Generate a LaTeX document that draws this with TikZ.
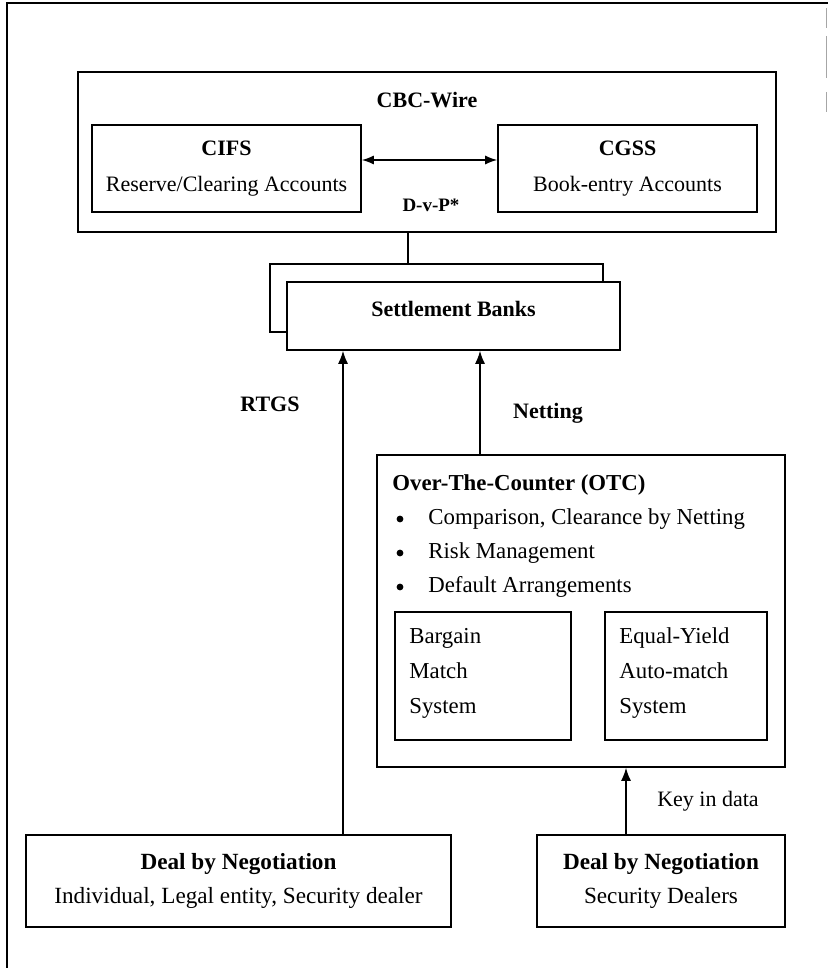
\documentclass[tikz,border=0pt]{standalone}
\usepackage{fontspec}
\setmainfont{Liberation Serif}
\usetikzlibrary{arrows.meta}
\begin{document}
\begin{tikzpicture}[x=0.5pt,y=-0.5pt,
  frame/.style={draw, line width=0.8pt, fill=white, inner sep=0pt},
  txt/.style={font=\fontsize{11}{17.5}\selectfont, inner sep=0pt, align=center},
  dtxt/.style={font=\fontsize{11.6}{17}\selectfont, inner sep=0pt, align=center},
  btxt/.style={font=\fontsize{11}{17.5}\selectfont\bfseries, inner sep=0pt},
  item/.style={font=\fontsize{11.4}{17.5}\selectfont, inner sep=0pt, anchor=base west},
  dot/.style={circle, fill, inner sep=0pt, minimum size=3.4pt},
  link/.style={line width=0.7pt},
  arr/.style={-{Latex[length=6.5pt,width=5pt]}, line width=0.7pt},
  darr/.style={{Latex[length=6pt,width=4.5pt]}-{Latex[length=6pt,width=4.5pt]}, line width=0.7pt}]

\useasboundingbox (0,0) rectangle (828,968);

% page frame
\draw[line width=0.8pt] (7,968) -- (7,3) -- (828,3);
\draw[gray!70, line width=0.4pt] (826,8) -- (826,28) (826,36) -- (826,78) (826,92) -- (826,112);

% central bank system
\node[frame, minimum width=349pt, minimum height=80pt] (cbc) at (427,152) {};
\node[btxt] (cbctitle) at (427,100) {CBC-Wire};
\node[frame, txt, minimum width=134.5pt, minimum height=43.5pt] (cifs) at (226.5,168.5)
  {\textbf{CIFS}\\[0.5pt]Reserve/Clearing Accounts};
\node[frame, txt, minimum width=129.5pt, minimum height=43.5pt] (cgss) at (627.5,168.5)
  {\textbf{CGSS}\\[0.5pt]Book-entry Accounts};
\draw[darr] ([yshift=4.25pt]cifs.east) -- ([yshift=4.25pt]cgss.west);
\node[font=\fontsize{9.5}{11}\selectfont\bfseries, inner sep=0pt] (dvp) at (431,205) {D-v-P*};

% settlement banks (stacked)
\node[frame, minimum width=166.5pt, minimum height=34pt] (back) at (436.5,298) {};
\node[frame, minimum width=166.5pt, minimum height=34pt] (front) at (453.5,316) {};
\node[btxt] (sbtext) at (453.5,309) {Settlement Banks};

\coordinate (xc) at (408,0);
\draw[link] (cbc.south -| xc) -- (back.north -| xc);

% over-the-counter
\node[frame, minimum width=204pt, minimum height=156pt] (otc) at (581,611) {};
\node[btxt, anchor=base west, font=\fontsize{11.4}{17.5}\selectfont\bfseries] (otctitle) at (392,490) {Over-The-Counter (OTC)};
\node[dot] (b1) at (400,519) {};
\node[dot] (b2) at (400,553) {};
\node[dot] (b3) at (400,587) {};
\node[item] (i1) at (428,524) {Comparison, Clearance by Netting};
\node[item] (i2) at (428,558) {Risk Management};
\node[item] (i3) at (428,592) {Default Arrangements};

\node[frame, minimum width=88pt, minimum height=64pt] (bms) at (483,676) {};
\node[item] (bms1) at (409,643) {Bargain};
\node[item] (bms2) at (409,678) {Match};
\node[item] (bms3) at (409,713) {System};

\node[frame, minimum width=81pt, minimum height=64pt] (eys) at (686,676) {};
\node[item] (eys1) at (619,643) {Equal-Yield};
\node[item] (eys2) at (619,678) {Auto-match};
\node[item] (eys3) at (619,713) {System};

% deals
\node[frame, dtxt, minimum width=212.5pt, minimum height=46pt] (dealA) at (238.5,881)
  {\textbf{Deal by Negotiation}\\Individual, Legal entity, Security dealer};
\node[frame, dtxt, minimum width=124pt, minimum height=46pt] (dealB) at (661,881)
  {\textbf{Deal by Negotiation}\\Security Dealers};

% flows
\coordinate (xr) at (343,0);
\coordinate (xn) at (480,0);
\coordinate (xk) at (626,0);
\draw[arr] (dealA.north -| xr) -- (front.south -| xr);
\draw[arr] (otc.north -| xn) -- (front.south -| xn);
\draw[arr] (dealB.north -| xk) -- (otc.south -| xk);

\node[btxt] (rtgs) at (270,404) {RTGS};
\node[btxt] (net) at (548,413) {Netting};
\node[txt] (key) at (708,801) {Key in data};
\end{tikzpicture}
\end{document}
